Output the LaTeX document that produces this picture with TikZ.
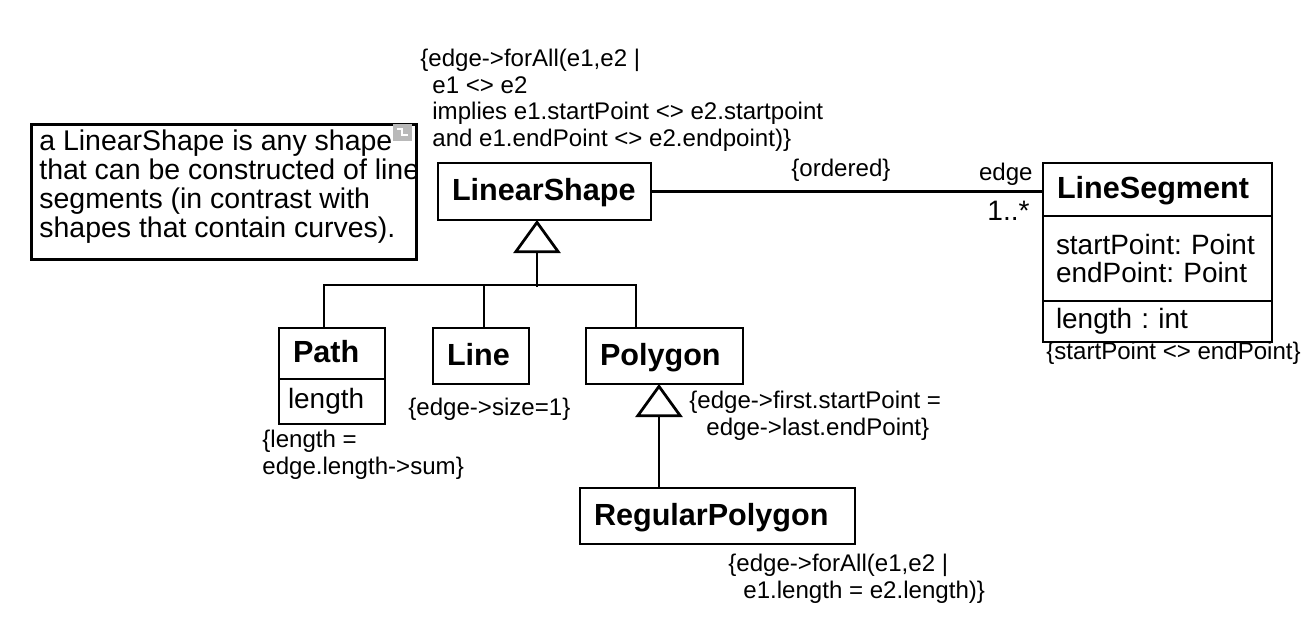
\documentclass[tikz,border=0pt]{standalone}
\usepackage{fontspec}
\setmainfont{Liberation Sans}
\usepackage{tikz}
\usetikzlibrary{arrows.meta,positioning}
\frenchspacing

\begin{document}
\begin{tikzpicture}[x=0.2mm, y=-0.2mm, line width=0.55mm,
  cls/.style = {draw, anchor=north west, outer sep=0pt, inner xsep=2.8mm, inner ysep=0pt, align=left, text width=#1,
                text height=13.2pt, text depth=2.8pt, font=\fontsize{17.4pt}{19pt}\bfseries\selectfont},
  attr/.style = {draw, outer sep=0pt, inner xsep=2.6mm, inner ysep=0pt, align=left, text width=#1,
                font=\fontsize{15.9pt}{15.8pt}\selectfont},
  cons/.style = {anchor=north west, inner sep=0pt, align=left, font=\fontsize{13.7pt}{15.1pt}\selectfont},
  lbl/.style = {inner sep=0pt, font=\fontsize{13.7pt}{15pt}\selectfont},
  gen/.style = {-{Triangle[open, length=6.6mm, width=9.4mm]}}]
  \useasboundingbox (0,0) rectangle (1316,620);

  % the note
  \node[draw, anchor=north west, minimum width=77mm, minimum height=27mm] (note) at (30,123) {};
  \node[anchor=north west, inner sep=0pt, align=left, font=\fontsize{16.2pt}{16.5pt}\selectfont]
    (notetext) at ([xshift=1.6mm, yshift=-1.1mm]note.north west)
    {a LinearShape is any shape\\that can be constructed of line\\segments (in contrast with\\shapes that contain curves).};
  \fill[gray!55] (393,124) rectangle (412,141);
  \draw[white, line width=0.45mm] (397,129) -- (402,129) -- (402,135) -- (408,135);

  % classes
  \node[cls=37mm, minimum height=11.4mm] (linear) at (438,163) {LinearShape};
  \node[cls=15.6mm, minimum height=10.2mm] (ptitle) at (279,328) {Path};
  \node[attr=17.6mm, inner xsep=1.8mm, minimum height=9mm] (pattr) [below=0pt of ptitle] {length};
  \node[cls=13.6mm, minimum height=11.2mm] (line) at (433,328) {Line};
  \node[cls=25.8mm, minimum height=11.2mm] (polygon) at (586,328) {Polygon};
  \node[cls=49.4mm, minimum height=11.2mm] (regpoly) at (580,488) {RegularPolygon};
  \node[cls=40.2mm, minimum height=10.6mm] (segtitle) at (1043,163) {LineSegment};
  \node[attr=40.6mm, minimum height=17mm] (segattr) [below=0pt of segtitle] {startPoint: Point\\endPoint: Point};
  \node[attr=40.6mm, minimum height=8.2mm] (segop) [below=0pt of segattr] {length : int};

  % association
  \draw (linear.east) -- (linear.east -| segtitle.west);
  \node[lbl, anchor=base west] (ordered) at (790,176) {\{ordered\}};
  \node[lbl, anchor=base east] (role) at (1034,180) {edge};
  \node[lbl, anchor=base west, font=\fontsize{16pt}{18pt}\selectfont] (mult) at (986,220) {1..*};

  % generalizations
  \coordinate (bar) at (537,287);
  \draw[gen] (bar) -- (bar |- linear.south);
  \draw ([xshift=-1.6mm]ptitle.north) -- ++(0,-43) -| ([xshift=-5.7mm]polygon.north);
  \draw ([xshift=0.6mm]line.north) -- ++(0,-43);
  \draw[gen] ([xshift=-11.7mm]regpoly.north) -- ([xshift=-11.7mm]regpoly.north |- polygon.south);

  % constraints
  \node[cons] (topcons) at (419,48)
    {\{edge->forAll(e1,e2 |\\\hspace*{2.4mm}e1 <> e2\\\hspace*{2.4mm}implies e1.startPoint <> e2.startpoint\\\hspace*{2.4mm}and e1.endPoint <> e2.endpoint)\}};
  \node[cons, anchor=base west] (linecons) at (407,415) {\{edge->size=1\}};
  \node[cons] (pathcons) at (261,429) {\{length =\\edge.length->sum\}};
  \node[cons] (polycons) at (688,390) {\{edge->first.startPoint =\\\hspace*{3.4mm}edge->last.endPoint\}};
  \node[cons] (regcons) at (727,553) {\{edge->forAll(e1,e2 |\\\hspace*{3mm}e1.length = e2.length)\}};
  \node[cons, anchor=base west] (segcons) at (1045,359) {\{startPoint <> endPoint\}};
\end{tikzpicture}
\end{document}
